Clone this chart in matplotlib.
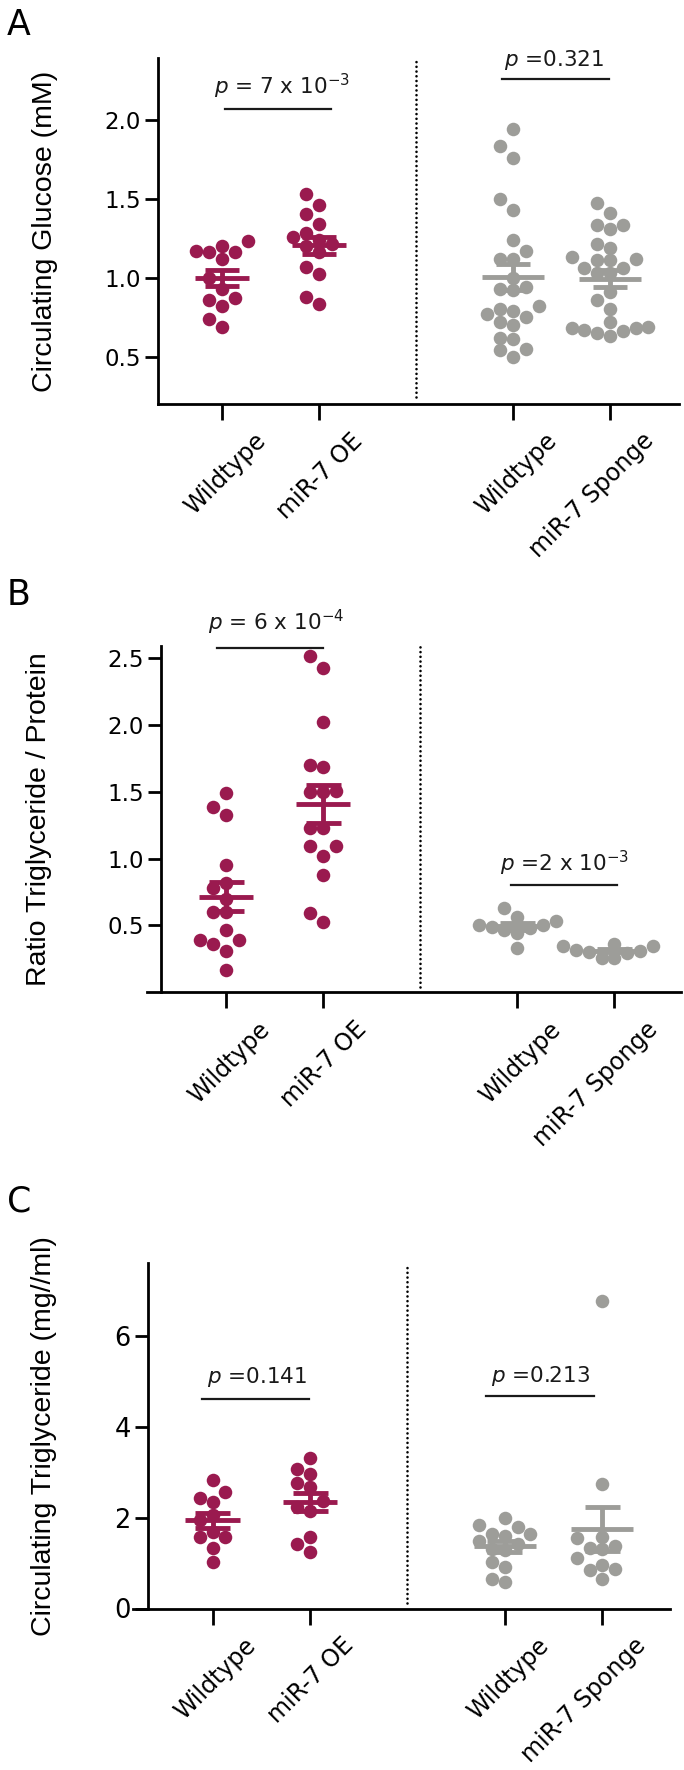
import numpy as np
import matplotlib
matplotlib.use("Agg")
import matplotlib.pyplot as plt
from matplotlib.transforms import ScaledTranslation
from matplotlib.ticker import FormatStrFormatter

# ---------------- data ----------------
group_labels = ["Wildtype", "miR-7 OE", "Wildtype", "miR-7 Sponge"]
group_pos = [0, 1, 3, 4]

# Panel A: circulating glucose (mM)
glucose_wt_oe = [1.16, 1.20, 1.16, 1.17, 1.23, 1.12, 1.00, 0.93, 0.87, 0.82, 0.86, 0.74, 0.69]
glucose_oe = [1.40, 1.46, 1.53, 1.34, 1.26, 1.28, 1.24, 1.16, 1.21, 1.20, 1.02, 1.07, 0.83, 0.88]
glucose_wt_sp = [1.94, 1.83, 1.76, 1.50, 1.43, 1.24, 1.17, 1.12, 1.12, 1.00, 0.92, 0.93, 0.94,
                 0.79, 0.80, 0.82, 0.77, 0.75, 0.70, 0.72, 0.61, 0.62, 0.55, 0.54, 0.50]
glucose_sp = [1.47, 1.41, 1.33, 1.33, 1.31, 1.21, 1.19, 1.13, 1.11, 1.11, 1.12, 1.06, 1.06,
              1.03, 1.03, 0.91, 0.86, 0.80, 0.72, 0.67, 0.68, 0.69, 0.63, 0.68, 0.65, 0.66]

# Panel B: ratio triglyceride / protein
ratio_wt_oe = [1.495, 1.33, 1.39, 0.95, 0.82, 0.78, 0.695, 0.60, 0.60, 0.47, 0.39, 0.365, 0.39, 0.31, 0.165]
ratio_oe = [2.52, 2.43, 2.02, 1.69, 1.70, 1.50, 1.51, 1.50, 1.23, 1.23, 1.095, 1.095, 1.02, 0.875, 0.595, 0.525]
ratio_wt_sp = [0.63, 0.48, 0.50, 0.53, 0.56, 0.445, 0.50, 0.33, 0.47, 0.49]
ratio_sp = [0.31, 0.35, 0.36, 0.345, 0.26, 0.26, 0.295, 0.30, 0.32]

# Panel C: circulating triglyceride (mg/ml)
circ_wt_oe = [2.83, 2.56, 2.44, 2.34, 2.05, 1.95, 1.69, 1.58, 1.58, 1.34, 1.03]
circ_oe = [3.31, 3.07, 2.96, 2.76, 2.67, 2.37, 2.24, 2.15, 1.57, 1.43, 1.25]
circ_wt_sp = [1.99, 1.84, 1.79, 1.65, 1.65, 1.60, 1.48, 1.42, 1.30, 1.28, 1.02, 0.92, 0.64, 0.59]
circ_sp = [6.77, 2.73, 1.58, 1.55, 1.38, 1.34, 1.30, 1.11, 0.95, 0.88, 0.85, 0.65]

glucose_ticks = [0.5, 1.0, 1.5, 2.0]
ratio_ticks = [0.5, 1.0, 1.5, 2.0, 2.5]
circ_ticks = [0, 2, 4, 6]

glucose_p = [r"$\mathit{p}$ = 7 x 10$^{-3}$", r"$\mathit{p}$ =0.321"]
ratio_p = [r"$\mathit{p}$ = 6 x 10$^{-4}$", r"$\mathit{p}$ =2 x 10$^{-3}$"]
circ_p = [r"$\mathit{p}$ =0.141", r"$\mathit{p}$ =0.213"]

ylabels = ["Circulating Glucose (mM)", "Ratio Triglyceride / Protein",
           "Circulating Triglyceride (mg//ml)"]
panel_letters = ["A", "B", "C"]

# ---------------- style ----------------
plt.rcParams["font.family"] = ["Liberation Sans", "DejaVu Sans"]
plt.rcParams["mathtext.fontset"] = "dejavusans"
WIDE = ["DejaVu Sans"]

MAGENTA = "#9a1a4f"
GRAY = "#9d9d99"
colors = [MAGENTA, MAGENTA, GRAY, GRAY]

FIG_W, FIG_H = 684, 1770
fig = plt.figure(figsize=(FIG_W / 100, FIG_H / 100), dpi=100)


def add_axes_px(left, right, top, bottom):
    return fig.add_axes([left / FIG_W, 1 - bottom / FIG_H,
                         (right - left) / FIG_W, (bottom - top) / FIG_H])


def swarm_x(ax, xc, vals, step_px=12.8, min_d=12.3):
    tr = ax.transData
    ypx = np.array([tr.transform((xc, v))[1] for v in vals])
    unit = tr.transform((1, 0))[0] - tr.transform((0, 0))[0]
    order = np.argsort(ypx, kind="stable")
    placed = []
    xs = np.zeros(len(vals))
    cands = [0] + [s * j for j in range(1, 30) for s in (-1, 1)]
    for i in order:
        x = 0.0
        for c in cands:
            x = c * step_px
            if all((x - px) ** 2 + (ypx[i] - py) ** 2 >= min_d ** 2 for px, py in placed):
                break
        placed.append((x, ypx[i]))
        xs[i] = xc + x / unit
    return xs


panels = [
    dict(series=[glucose_wt_oe, glucose_oe, glucose_wt_sp, glucose_sp],
         rect=(158, 679, 58, 404), xlim=(-0.660, 4.711), spine_x=None,
         ylim=(0.2, 2.39), yticks=glucose_ticks, fmt="%.1f", ytick_fs=16.5,
         ylab_px=58, letter_xy=(7, 35),
         ptext=glucose_p,
         brackets=[((0.03, 1.12), 2.07, 0.62, 2.16), ((2.89, 3.99), 2.256, 3.42, 2.34)],
         dots=(0.02, 1.0)),
    dict(series=[ratio_wt_oe, ratio_oe, ratio_wt_sp, ratio_sp],
         rect=(146.7, 681, 646, 992.3), xlim=(-0.818, 4.687), spine_x=-0.670,
         ylim=(0.0, 2.592), yticks=ratio_ticks, fmt="%.1f", ytick_fs=16.5,
         ylab_px=52, letter_xy=(7, 605),
         ptext=ratio_p,
         brackets=[((-0.096, 0.997), 2.578, 0.52, 2.707), ((2.94, 4.03), 0.80, 3.49, 0.907)],
         dots=(0.015, 1.0)),
    dict(series=[circ_wt_oe, circ_oe, circ_wt_sp, circ_sp],
         rect=(133, 670, 1262.7, 1608.5), xlim=(-0.818, 4.695), spine_x=-0.664,
         ylim=(0.0, 7.61), yticks=circ_ticks, fmt="%d", ytick_fs=18.5,
         ylab_px=57, letter_xy=(7, 1212),
         ptext=circ_p,
         brackets=[((-0.107, 0.99), 4.61, 0.46, 4.96), ((2.81, 3.91), 4.68, 3.37, 4.99)],
         dots=(0.017, 1.0)),
]

for k, P in enumerate(panels):
    l, r, t, b = P["rect"]
    ax = add_axes_px(l, r, t, b)
    ax.set_xlim(*P["xlim"])
    ax.set_ylim(*P["ylim"])
    ax.patch.set_alpha(0)
    for s in ("top", "right"):
        ax.spines[s].set_visible(False)
    for s in ("left", "bottom"):
        ax.spines[s].set_linewidth(2.0)
    if P["spine_x"] is not None:
        ax.spines["left"].set_position(("data", P["spine_x"]))

    ax.set_yticks(P["yticks"])
    ax.yaxis.set_major_formatter(FormatStrFormatter(P["fmt"]))
    ax.tick_params(axis="y", length=9.5, width=2.0, pad=3.0, labelsize=P["ytick_fs"],
                   labelfontfamily="DejaVu Sans")
    ax.set_xticks(group_pos)
    ax.tick_params(axis="x", length=11.5, width=2.0, pad=12.5)
    ax.set_xticklabels(group_labels, rotation=45, ha="right", va="center",
                       rotation_mode="anchor", fontsize=17, family=WIDE)
    off = ScaledTranslation(40 / 100, 0, fig.dpi_scale_trans)
    for lab in ax.get_xticklabels():
        lab.set_transform(lab.get_transform() + off)

    ax.set_ylabel(ylabels[k], fontsize=20.5)
    ax.yaxis.set_label_coords((P["ylab_px"] - l) / (r - l), 0.5)

    # data points
    for xc, vals, col in zip(group_pos, P["series"], colors):
        xs = swarm_x(ax, xc, vals)
        ax.scatter(xs, vals, s=95, color=col, linewidths=0, zorder=2, clip_on=False)
        arr = np.asarray(vals)
        m = arr.mean()
        sem = arr.std(ddof=1) / np.sqrt(len(arr))
        mw = 0.28 if col == MAGENTA else 0.32
        cw = 0.18
        ax.hlines(m, xc - mw, xc + mw, color=col, lw=3.5, zorder=3)
        ax.vlines(xc, m - sem, m + sem, color=col, lw=3.5, zorder=3)
        ax.hlines([m - sem, m + sem], xc - cw, xc + cw, color=col, lw=3.5, zorder=3)

    # dotted separator
    ax.axvline(2, ymin=P["dots"][0], ymax=P["dots"][1], color="black", lw=1.9,
               linestyle=(0, (0.01, 1.78)), dash_capstyle="round", clip_on=False)

    # p-value brackets
    for j, ((x0, x1), yl, xt, yt) in enumerate(P["brackets"]):
        ax.plot([x0, x1], [yl, yl], color="#1a1a1a", lw=1.6, clip_on=False)
        ax.text(xt, yt, P["ptext"][j], ha="center", va="baseline", fontsize=15.5,
                family=WIDE, color="#1a1a1a", clip_on=False)

    lx, ly = P["letter_xy"]
    fig.text(lx / FIG_W, 1 - ly / FIG_H, panel_letters[k], fontsize=25,
             family=WIDE, ha="left", va="baseline")

fig.savefig("out.png", dpi=100)
